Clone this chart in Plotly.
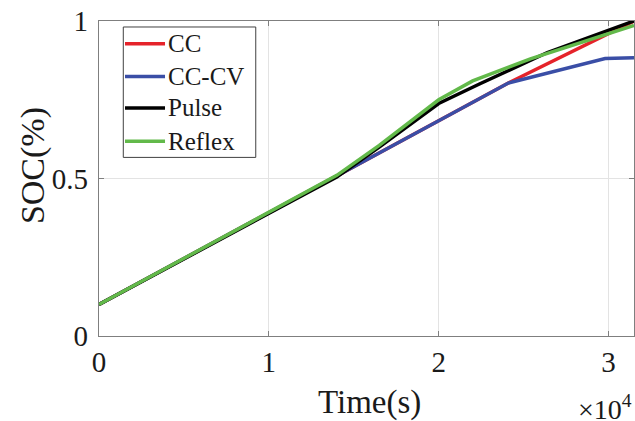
import plotly.graph_objects as go

# Data (time in seconds, SOC fraction)
cc_t = [0, 24100, 31500]
cc_soc = [0.10, 0.803, 1.0]

cccv_t = [0, 24100, 29800, 31500]
cccv_soc = [0.10, 0.803, 0.881, 0.883]

pulse_t = [0, 14000, 16500, 20000, 22400, 26400, 31500]
pulse_soc = [0.10, 0.505, 0.600, 0.738, 0.800, 0.900, 1.0]

reflex_t = [0, 14000, 16500, 20000, 22000, 25400, 31500]
reflex_soc = [0.10, 0.510, 0.605, 0.750, 0.810, 0.880, 0.986]

x_tickvals = [0, 10000, 20000, 30000]
x_ticktext = ["0", "1", "2", "3"]
y_tickvals = [0, 0.5, 1]
y_ticktext = ["0", "0.5", "1"]

FONT = "Liberation Serif, Times New Roman, serif"
TXT = "#1a1a1a"

series = [
    ("CC", cc_t, cc_soc, "#e5232a"),
    ("CC-CV", cccv_t, cccv_soc, "#3a4ea6"),
    ("Pulse", pulse_t, pulse_soc, "#000000"),
    ("Reflex", reflex_t, reflex_soc, "#62b94a"),
]

fig = go.Figure()
for name, t, s, c in series:
    fig.add_trace(go.Scatter(x=t, y=s, mode="lines", name=name,
                             line=dict(color=c, width=3.5), showlegend=False))

axis_common = dict(
    showline=True, linecolor="#7f7f7f", linewidth=1.2, mirror="ticks",
    ticks="inside", ticklen=5, tickcolor="#7f7f7f",
    showgrid=True, gridcolor="#e3e3e3", gridwidth=1,
    zeroline=False, automargin=False,
    tickfont=dict(family=FONT, size=29, color=TXT),
)

fig.update_xaxes(range=[0, 31500], tickvals=x_tickvals, ticktext=x_ticktext,
                 **axis_common)
fig.update_yaxes(range=[0, 1], tickvals=y_tickvals, ticktext=y_ticktext,
                 ticklabelstandoff=4, **axis_common)

# axis titles
fig.add_annotation(text="Time(s)", xref="paper", yref="paper",
                   x=0.505, y=-0.212, xanchor="center", yanchor="middle", showarrow=False,
                   font=dict(family=FONT, size=33, color=TXT))
fig.add_annotation(text="SOC(%)", xref="paper", yref="paper",
                   x=-0.123, y=0.54, xanchor="center", yanchor="middle", showarrow=False,
                   textangle=-90, font=dict(family=FONT, size=34, color=TXT))
fig.add_annotation(text="×10<sup>4</sup>", xref="paper", yref="paper",
                   x=1.0, y=-0.29, xanchor="right", yanchor="bottom", showarrow=False,
                   font=dict(family=FONT, size=28, color=TXT))

# legend box (drawn manually to match the compact MATLAB-style legend)
fig.add_shape(type="rect", xref="paper", yref="paper",
              x0=0.0454, x1=0.293, y0=0.567, y1=0.981,
              fillcolor="white", line=dict(color="#404040", width=1), layer="above")
leg_y = [0.928, 0.824, 0.724, 0.618]
for (name, _, _, c), yy in zip(series, leg_y):
    fig.add_shape(type="line", xref="paper", yref="paper",
                  x0=0.0486, x1=0.1234, y0=yy, y1=yy,
                  line=dict(color=c, width=3.5), layer="above")
    fig.add_annotation(text=name, xref="paper", yref="paper",
                       x=0.125, y=yy, xanchor="left", yanchor="middle", showarrow=False,
                       font=dict(family=FONT, size=25, color=TXT))

fig.update_layout(
    width=635, height=421,
    margin=dict(l=99, r=1, t=21, b=85),
    paper_bgcolor="white", plot_bgcolor="white",
    showlegend=False,
)

fig.write_html("out.html", post_script="document.body.style.margin='0';",
               config={"displayModeBar": False})
